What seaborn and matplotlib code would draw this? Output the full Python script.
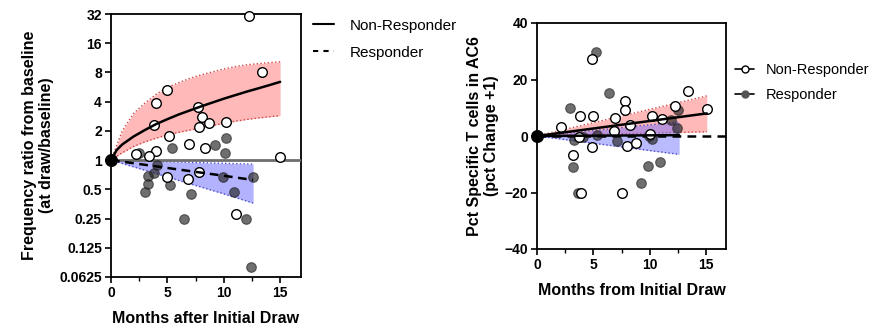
import matplotlib
matplotlib.use("Agg")
import matplotlib.pyplot as plt
from matplotlib.lines import Line2D
from matplotlib.ticker import FixedLocator, MultipleLocator, NullLocator
import seaborn as sns
import pandas as pd

sns.set_style("ticks")
plt.rcParams['font.family'] = ['Liberation Sans', 'DejaVu Sans']
plt.rcParams['text.color'] = 'black'
plt.rcParams['axes.labelcolor'] = 'black'
plt.rcParams['xtick.color'] = 'black'
plt.rcParams['ytick.color'] = 'black'

# ---------------- Left panel data ----------------
left_nr_x = [12.2, 13.4, 5.0, 4.0, 3.8, 5.1, 7.7, 8.1, 7.8, 8.7, 10.2, 6.9, 8.3, 4.0, 3.4, 2.2, 15.0, 5.0, 6.8, 7.8, 11.1]
left_nr_y = [30.5, 8.0, 5.3, 3.9, 2.3, 1.77, 3.5, 2.77, 2.19, 2.4, 2.46, 1.46, 1.33, 1.24, 1.1, 1.15, 1.07, 0.67, 0.64, 0.75, 0.28]
left_r_x = [2.5, 5.4, 9.2, 10.2, 10.1, 4.1, 3.3, 3.8, 3.3, 3.0, 5.2, 7.1, 6.5, 9.9, 10.9, 12.6, 12.0, 12.4]
left_r_y = [1.19, 1.32, 1.42, 1.7, 1.18, 0.89, 0.69, 0.73, 0.57, 0.47, 0.55, 0.45, 0.25, 0.67, 0.47, 0.67, 0.25, 0.079]

left_nr_fit_x = [0, 0.5, 1, 2, 3, 4, 5, 6, 7, 8, 9, 10, 11, 12, 13, 14, 15]
left_nr_fit_y = [1.0, 1.27, 1.45, 1.75, 2.04, 2.35, 2.64, 2.95, 3.25, 3.58, 3.92, 4.29, 4.66, 5.06, 5.46, 5.90, 6.4]
left_nr_band_x = [0, 1, 2, 3, 4, 5, 6, 7, 8, 9, 10, 11, 12, 13, 14, 15]
left_nr_band_hi = [1.0, 2.0, 3.03, 3.86, 4.76, 5.62, 6.28, 6.96, 7.57, 8.11, 8.69, 9.19, 9.58, 9.85, 10.1, 10.3]
left_nr_band_lo = [1.0, 1.19, 1.38, 1.54, 1.68, 1.82, 1.93, 2.04, 2.14, 2.27, 2.39, 2.51, 2.62, 2.71, 2.79, 2.87]

left_r_fit_x = [0, 2, 4, 6, 8, 10, 12.6]
left_r_fit_y = [1.0, 0.929, 0.862, 0.80, 0.743, 0.69, 0.624]
left_r_band_hi = [1.0, 0.985, 0.970, 0.955, 0.941, 0.927, 0.908]
left_r_band_lo = [1.0, 0.852, 0.726, 0.618, 0.527, 0.449, 0.361]

left_yticks = [0.0625, 0.125, 0.25, 0.5, 1, 2, 4, 8, 16, 32]
left_yticklabels = ["0.0625", "0.125", "0.25", "0.5", "1", "2", "4", "8", "16", "32"]

# ---------------- Right panel data ----------------
right_nr_x = [4.9, 2.1, 3.8, 5.0, 3.2, 3.7, 3.9, 4.9, 6.9, 6.8, 7.8, 7.8, 8.2, 7.5, 8.0, 8.8, 10.2, 11.1, 12.2, 13.4, 15.1, 10.0]
right_nr_y = [27.2, 3.2, 7.2, 7.0, -6.8, -0.2, -20.1, -3.9, 6.3, 1.9, 12.5, 9.1, 3.9, -20.1, -3.6, -2.6, 7.0, 6.0, 10.6, 15.8, 9.6, 0.7]
right_r_x = [5.2, 6.4, 2.9, 3.3, 4.1, 3.2, 3.6, 5.3, 7.1, 9.8, 9.2, 10.9, 10.2, 12.5, 11.9, 12.4, 9.9]
right_r_y = [29.8, 15.2, 9.8, -1.4, -0.5, -10.9, -20.3, 0.5, -1.8, -10.5, -16.5, -9.1, -1.2, 9.2, 5.7, 2.9, 0.0]

right_nr_fit_x = [0, 15.05]
right_nr_fit_y = [0, 8.0]
right_nr_band_hi = [0, 14.2]
right_nr_band_lo = [0, 1.5]
right_r_fit_x = [0, 12.6]
right_r_fit_y = [0, 0.3]
right_r_band_hi = [0, 5.0]
right_r_band_lo = [0, -6.5]

right_yticks = [-40, -20, 0, 20, 40]
xticks = [0, 5, 10, 15]

# ---------------- Style ----------------
PINK = "#ff8080"
BLUE = "#6666ff"
PINK_EDGE = "#d04848"
BLUE_EDGE = "#4a4ac8"
DARK = "#222222"

fig = plt.figure(figsize=(8.86, 3.36), dpi=100)
axL = fig.add_axes([111/886, 59/336, 190/886, 263/336])
axR = fig.add_axes([537/886, 87/336, 189/886, 226/336])


def style_axis(ax):
    for s in ax.spines.values():
        s.set_linewidth(1.3)
        s.set_color("black")
    ax.tick_params(axis="both", which="major", direction="out", length=4.5, width=1.2,
                   labelsize=10, pad=2, colors="black")
    ax.tick_params(axis="x", which="minor", direction="out", length=3, width=1.0, colors="black")
    for lab in ax.get_xticklabels() + ax.get_yticklabels():
        lab.set_fontweight("bold")


def scatter_points(ax, xr, yr, xn, yn):
    sns.scatterplot(x=xr, y=yr, ax=ax, s=48, color=DARK, alpha=0.65, edgecolor=DARK,
                    linewidth=0.8, zorder=4, legend=False, clip_on=False)
    sns.scatterplot(x=xn, y=yn, ax=ax, s=48, facecolor="white", edgecolor="black",
                    linewidth=1.0, zorder=5, legend=False, clip_on=False)


# ---------------- Left panel ----------------
axL.set_yscale("log", base=2)
axL.fill_between(left_nr_band_x, left_nr_band_lo, left_nr_band_hi, color=PINK, alpha=0.55,
                 linewidth=0, zorder=2)
axL.plot(left_nr_band_x, left_nr_band_hi, ls=":", color=PINK_EDGE, lw=1.0, zorder=2)
axL.plot(left_nr_band_x, left_nr_band_lo, ls=":", color=PINK_EDGE, lw=1.0, zorder=2)
axL.fill_between(left_r_fit_x, left_r_band_lo, left_r_band_hi, color=BLUE, alpha=0.5,
                 linewidth=0, zorder=2)
axL.plot(left_r_fit_x, left_r_band_hi, ls=":", color=BLUE_EDGE, lw=1.0, zorder=2)
axL.plot(left_r_fit_x, left_r_band_lo, ls=":", color=BLUE_EDGE, lw=1.0, zorder=2)
axL.axhline(1, color="#6e6e6e", lw=2.0, zorder=3)

scatter_points(axL, left_r_x, left_r_y, left_nr_x, left_nr_y)

sns.lineplot(x=left_nr_fit_x, y=left_nr_fit_y, ax=axL, color="black", lw=1.8, zorder=6)
sns.lineplot(x=left_r_fit_x, y=left_r_fit_y, ax=axL, color="black", lw=1.8, zorder=6,
             linestyle=(0, (3.5, 2.2)))
axL.scatter([0], [1], s=70, color="black", zorder=8, clip_on=False)

axL.set_xlim(0, 16.85)
axL.set_ylim(0.0625, 32)
axL.yaxis.set_major_locator(FixedLocator(left_yticks))
axL.yaxis.set_minor_locator(NullLocator())
axL.set_yticklabels(left_yticklabels)
axL.set_xticks(xticks)
axL.xaxis.set_minor_locator(MultipleLocator(2.5))
axL.set_xlabel("Months after Initial Draw", fontsize=11.5, fontweight="bold", labelpad=8)
axL.set_ylabel("Frequency ratio from baseline\n(at draw/baseline)", fontsize=11.5,
               fontweight="bold", labelpad=4, linespacing=1.15)
style_axis(axL)

legL = axL.legend(handles=[Line2D([], [], color="black", lw=1.5),
                           Line2D([], [], color="black", lw=1.5, ls=(0, (2.5, 2.5)))],
                  labels=["Non-Responder", "Responder"], loc="upper left",
                  bbox_to_anchor=(0.99, 1.035), frameon=False, fontsize=11,
                  handlelength=1.4, handletextpad=1.0, labelspacing=0.85)

# ---------------- Right panel ----------------
axR.fill_between(right_nr_fit_x, right_nr_band_lo, right_nr_band_hi, color=PINK, alpha=0.55,
                 linewidth=0, zorder=2)
axR.plot(right_nr_fit_x, right_nr_band_hi, ls=":", color=PINK_EDGE, lw=1.0, zorder=2)
axR.plot(right_nr_fit_x, right_nr_band_lo, ls=":", color=PINK_EDGE, lw=1.0, zorder=2)
axR.fill_between(right_r_fit_x, right_r_band_lo, right_r_band_hi, color=BLUE, alpha=0.45,
                 linewidth=0, zorder=2)
axR.plot(right_r_fit_x, right_r_band_hi, ls=":", color=BLUE_EDGE, lw=1.0, zorder=2)
axR.plot(right_r_fit_x, right_r_band_lo, ls=":", color=BLUE_EDGE, lw=1.0, zorder=2)
axR.axhline(0, color="black", lw=1.8, ls=(0, (3.5, 2.5)), zorder=3)

scatter_points(axR, right_r_x, right_r_y, right_nr_x, right_nr_y)

sns.lineplot(x=right_nr_fit_x, y=right_nr_fit_y, ax=axR, color="black", lw=1.8, zorder=6)
sns.lineplot(x=right_r_fit_x, y=right_r_fit_y, ax=axR, color="black", lw=1.8, zorder=6)
axR.scatter([0], [0], s=70, color="black", zorder=8, clip_on=False)

axR.set_xlim(0, 16.75)
axR.set_ylim(-40, 40)
axR.set_yticks(right_yticks)
axR.set_xticks(xticks)
axR.xaxis.set_minor_locator(MultipleLocator(2.5))
axR.set_xlabel("Months from Initial Draw", fontsize=11.5, fontweight="bold", labelpad=8)
axR.set_ylabel("Pct Specific T cells in AC6\n(pct Change +1)", fontsize=11.5,
               fontweight="bold", labelpad=4, linespacing=1.15)
style_axis(axR)

legR = axR.legend(handles=[Line2D([], [], color="black", lw=1.2, marker="o", markersize=5,
                                  markerfacecolor="white", markeredgecolor="black"),
                           Line2D([], [], color="black", lw=1.2, marker="o", markersize=5,
                                  markerfacecolor="#555555", markeredgecolor="#555555")],
                  labels=["Non-Responder", "Responder"], loc="upper left",
                  bbox_to_anchor=(0.98, 0.88), frameon=False, fontsize=10.5,
                  handlelength=1.3, handletextpad=0.8, labelspacing=0.75)

fig.savefig("out.png", dpi=100)
